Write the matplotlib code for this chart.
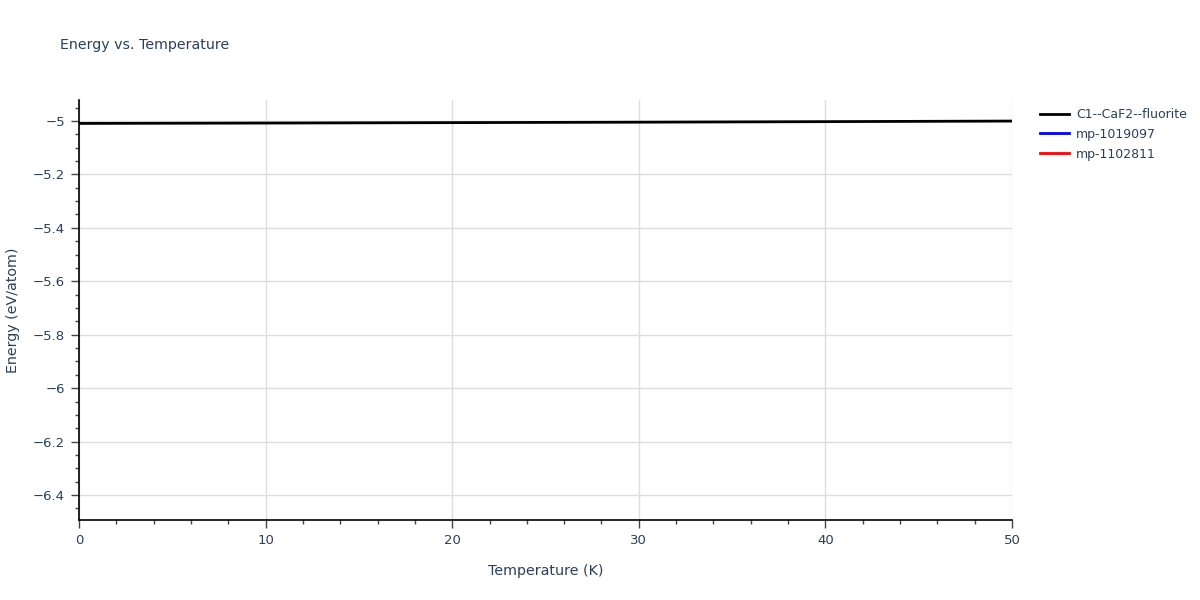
import numpy as np
import matplotlib.pyplot as plt
from matplotlib.ticker import MultipleLocator, FuncFormatter

# data
temperature = [0, 10, 20, 30, 40, 50]
energy_fluorite = [-5.0092, -5.0078, -5.0062, -5.0045, -5.0025, -5.0003]
# the other two series show in the legend but have no visible points
temp_1019097 = []
energy_1019097 = []
temp_1102811 = []
energy_1102811 = []

txt = '#2a3f5f'

fig = plt.figure(figsize=(12, 6), dpi=100)
ax = fig.add_axes([79/1200, 80/600, (1012-79)/1200, 420/600])

ax.plot(temperature, energy_fluorite, color='black', lw=2, label='C1--CaF2--fluorite', zorder=3)
ax.plot(temp_1019097, energy_1019097, color='blue', lw=2, label='mp-1019097')
ax.plot(temp_1102811, energy_1102811, color='red', lw=2, label='mp-1102811')

ax.set_xlim(0, 50)
ax.set_ylim(-6.4935, -4.9215)

ax.xaxis.set_major_locator(MultipleLocator(10))
ax.xaxis.set_minor_locator(MultipleLocator(2))
ax.yaxis.set_major_locator(MultipleLocator(0.2))
ax.yaxis.set_minor_locator(MultipleLocator(0.05))
ax.yaxis.set_major_formatter(FuncFormatter(lambda v, p: ('%g' % round(v, 2)).replace('-', '\u2212')))

ax.grid(True, which='major', color='#dddddd', lw=1)
ax.set_axisbelow(True)
for s in ['top', 'right']:
    ax.spines[s].set_visible(False)
for s in ['left', 'bottom']:
    ax.spines[s].set_color('black')
    ax.spines[s].set_linewidth(1.2)

ax.tick_params(which='major', direction='out', length=6, width=1, color='#444444', labelsize=9.5, labelcolor=txt, pad=4)
ax.tick_params(which='minor', direction='out', length=3, width=1, color='#444444')

ax.set_xlabel('Temperature (K)', fontsize=10.3, color=txt, labelpad=12)
ax.set_ylabel('Energy (eV/atom)', fontsize=10.3, color=txt, labelpad=9)

fig.text(60/1200, 1 - 45/600, 'Energy vs. Temperature', fontsize=10.2, color=txt, va='center')

leg = ax.legend(loc='upper left', bbox_to_anchor=(1.025, 0.993), frameon=False, fontsize=9,
                handlelength=2.3, handletextpad=0.55, labelspacing=0.55, borderaxespad=0)
for t in leg.get_texts():
    t.set_color(txt)

fig.savefig('out.png', dpi=100)
